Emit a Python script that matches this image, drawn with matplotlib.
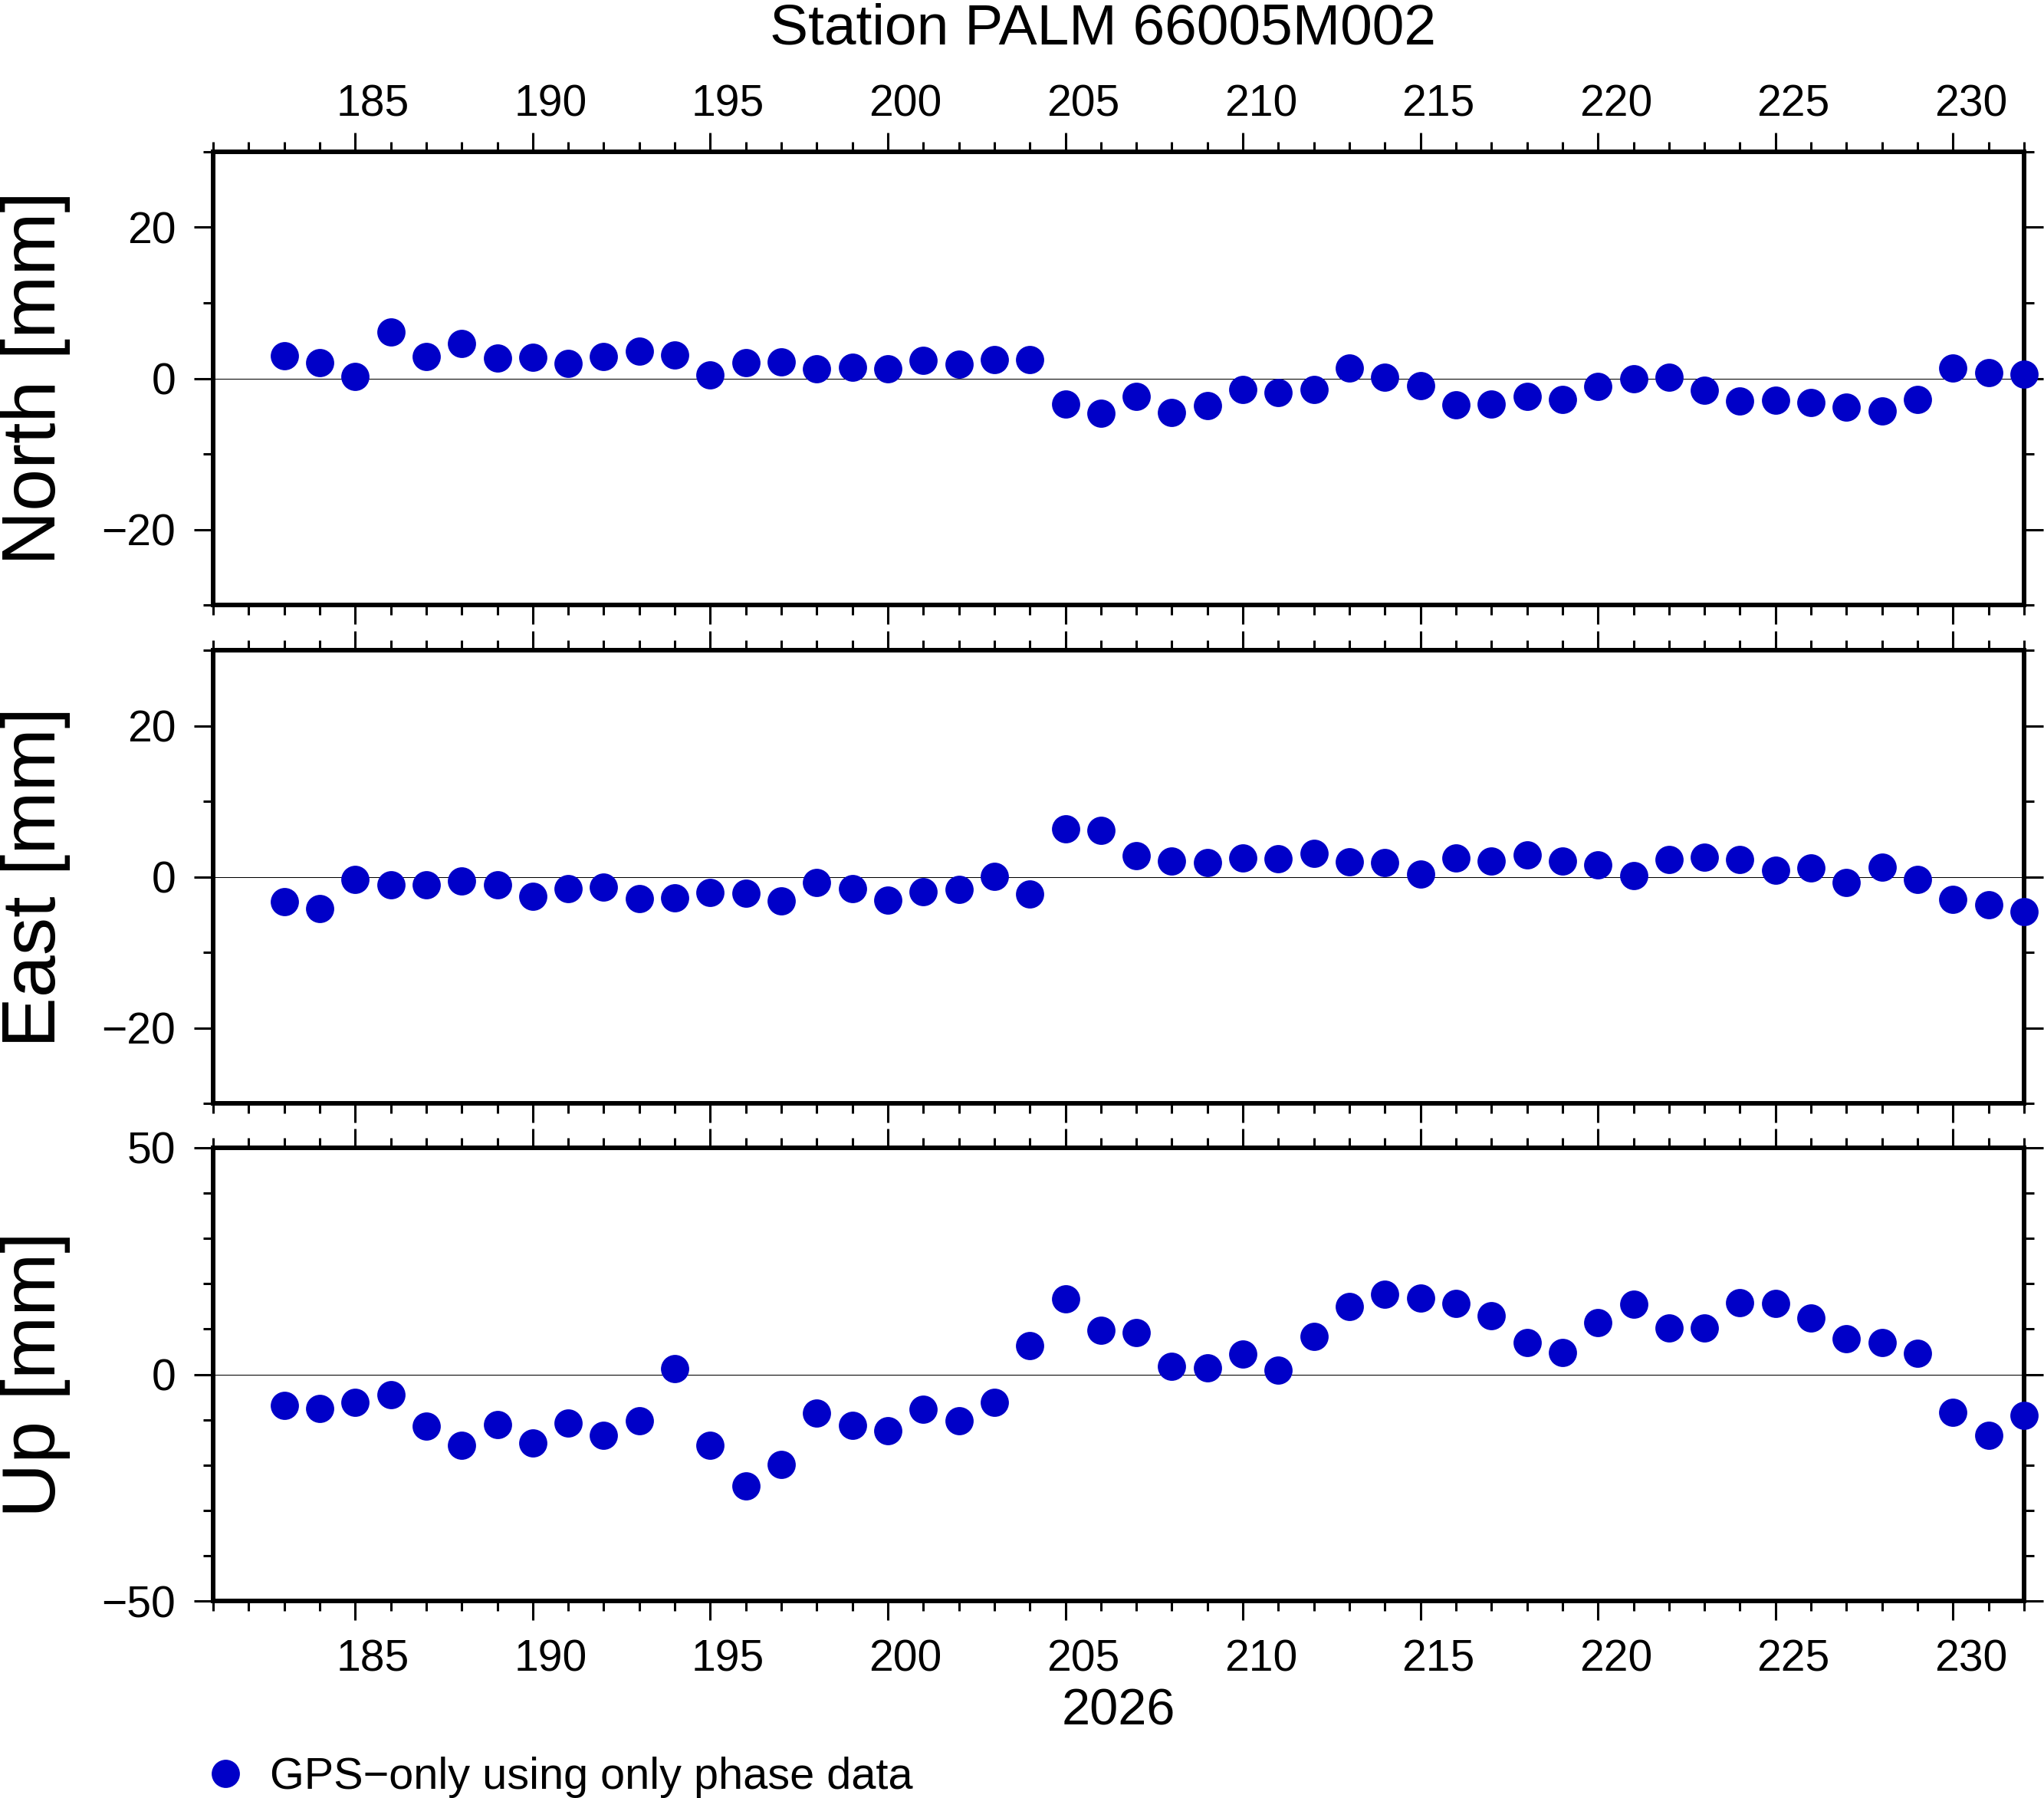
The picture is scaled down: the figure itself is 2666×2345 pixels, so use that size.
import numpy as np
import matplotlib.pyplot as plt
from matplotlib.ticker import FixedLocator, MultipleLocator
from matplotlib.transforms import ScaledTranslation

plt.rcParams['font.family'] = ['Liberation Sans', 'DejaVu Sans']

# day of year 2026
days = np.arange(183, 233)

north = [3.0, 2.1, 0.3, 6.1, 2.9, 4.6, 2.7, 2.8, 2.0, 2.9,
         3.6, 3.1, 0.5, 2.1, 2.2, 1.3, 1.5, 1.3, 2.4, 1.9,
         2.5, 2.5, -3.4, -4.6, -2.4, -4.5, -3.6, -1.5, -1.9, -1.5,
         1.4, 0.2, -1.0, -3.5, -3.4, -2.4, -2.8, -1.1, -0.1, 0.2,
         -1.6, -3.0, -2.9, -3.2, -3.8, -4.3, -2.8, 1.4, 0.8, 0.6]

east = [-3.3, -4.2, -0.4, -1.1, -1.1, -0.6, -1.1, -2.6, -1.6, -1.4,
        -2.9, -2.8, -2.1, -2.2, -3.2, -0.8, -1.6, -3.1, -2.0, -1.7,
        0.1, -2.3, 6.3, 6.1, 2.8, 2.1, 1.9, 2.5, 2.4, 3.1,
        2.0, 1.9, 0.4, 2.5, 2.1, 2.9, 2.1, 1.6, 0.2, 2.3,
        2.6, 2.3, 0.9, 1.2, -0.8, 1.3, -0.4, -3.0, -3.7, -4.6]

up = [-6.8, -7.6, -6.1, -4.5, -11.5, -15.6, -11.0, -15.2, -10.8, -13.4,
      -10.3, 1.2, -15.6, -24.7, -19.9, -8.5, -11.2, -12.4, -7.7, -10.3,
      -6.1, 6.3, 16.6, 9.8, 9.2, 1.7, 1.5, 4.5, 0.9, 8.4,
      15.0, 17.7, 16.9, 15.6, 13.0, 7.1, 4.9, 11.5, 15.4, 10.3,
      10.2, 15.8, 15.6, 12.5, 7.8, 7.1, 4.6, -8.3, -13.4, -9.1]

series = [north, east, up]
ylabels = ['North [mm]', 'East [mm]', 'Up [mm]']
ylims = [(-30, 30), (-30, 30), (-50, 50)]
yticks_major = [[-20, 0, 20], [-20, 0, 20], [-50, 0, 50]]
xticks_major = [185, 190, 195, 200, 205, 210, 215, 220, 225, 230]
xlim = (181, 232)

title = 'Station PALM 66005M002'
year = '2026'
legend_text = 'GPS\u2212only using only phase data'
dot_color = '#0000c8'

W, H = 2666, 2345
fig = plt.figure(figsize=(W / 100, H / 100), dpi=100)

left_px, right_px = 278, 2640
panels_px = [(198, 789), (848, 1439), (1497, 2088)]

axes = []
for i, (top, bot) in enumerate(panels_px):
    ax = fig.add_axes([left_px / W, 1 - bot / H, (right_px - left_px) / W, (bot - top) / H])
    ax.axhline(0, color='black', lw=0.75, zorder=1)
    line, = ax.plot(days, series[i], 'o', color=dot_color, ms=26.5, mew=0,
                    clip_on=False, zorder=3, label=legend_text)
    ax.set_xlim(*xlim)
    ax.set_ylim(*ylims[i])
    ax.xaxis.set_major_locator(FixedLocator(xticks_major))
    ax.xaxis.set_minor_locator(MultipleLocator(1))
    ax.yaxis.set_major_locator(FixedLocator(yticks_major[i]))
    ax.yaxis.set_minor_locator(MultipleLocator(10))
    for sp in ax.spines.values():
        sp.set_linewidth(4.3)
    ax.tick_params(which='both', direction='out', top=True, bottom=True,
                   left=True, right=True, width=2.2)
    ax.tick_params(which='major', length=18)
    ax.tick_params(which='minor', length=9.4)
    ax.tick_params(axis='y', labelsize=41, pad=17)
    ax.tick_params(axis='x', labelsize=41, labeltop=(i == 0), labelbottom=(i == 2),
                   pad=6.5 if i == 0 else 18)
    fig.text(47 / W, 1 - (top + bot) / 2 / H, ylabels[i], rotation=90,
             ha='center', va='center', fontsize=71)
    axes.append(ax)

# day labels sit in the middle of the day interval
dx = 0.5 * ((right_px - left_px) / 100) / (xlim[1] - xlim[0])
shift = ScaledTranslation(dx, 0, fig.dpi_scale_trans)
for ax in axes:
    for t in ax.xaxis.get_major_ticks():
        t.label1.set_transform(t.label1.get_transform() + shift)
        t.label2.set_transform(t.label2.get_transform() + shift)

fig.text(1438 / W, 1 - 57 / H, title, ha='center', va='baseline', fontsize=54)
fig.text(1459 / W, 1 - 2250 / H, year, ha='center', va='baseline', fontsize=48)

fig.legend(handles=[line], loc='center left', bbox_to_anchor=(265.5 / W, 1 - 2318 / H),
           frameon=False, fontsize=41.5, handlelength=1.0, handletextpad=0.5,
           borderpad=0, borderaxespad=0, numpoints=1)

fig.savefig('out.png', dpi=100)
